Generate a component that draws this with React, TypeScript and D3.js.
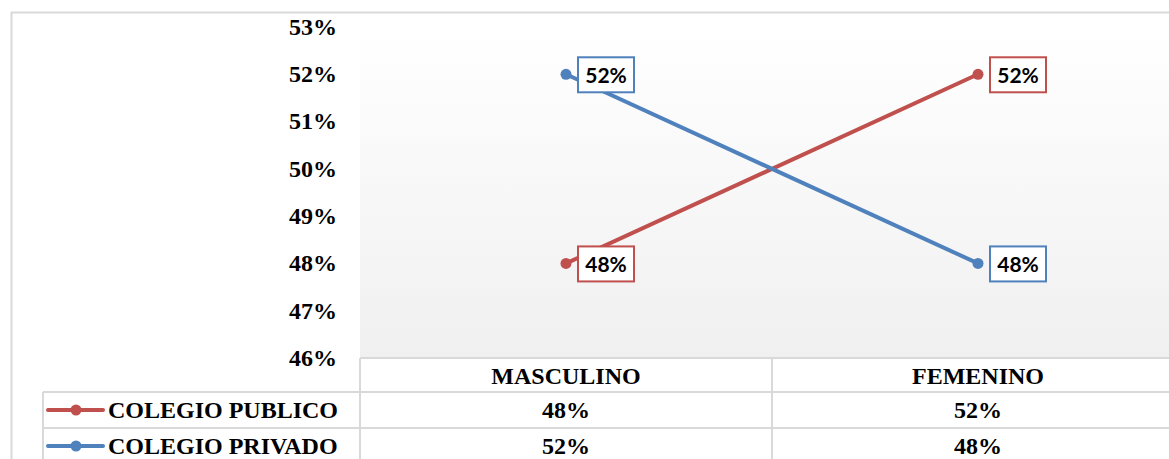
import React from "react";
import * as d3 from "d3";

const categories = ["MASCULINO", "FEMENINO"];
const seriesNames = ["COLEGIO PUBLICO", "COLEGIO PRIVADO"];
const publicoValues = [0.48, 0.52];
const privadoValues = [0.52, 0.48];
const yTicks = [0.46, 0.47, 0.48, 0.49, 0.5, 0.51, 0.52, 0.53];
const seriesColors = ["#c0504d", "#4f81bd"];

const W = 1169;
const H = 459;

export default function App() {
  const plotLeft = 360;
  const plotRight = 1184;
  const plotTop = 27;
  const plotBottom = 358;
  const y = d3.scaleLinear().domain([0.46, 0.53]).range([plotBottom, plotTop]);
  const x = d3.scaleBand<string>().domain(categories).range([plotLeft, plotRight]);
  const cx = (c: string) => (x(c) as number) + x.bandwidth() / 2;
  const fmt = d3.format(".0%");
  const series = [publicoValues, privadoValues];
  const line = d3
    .line<number>()
    .x((_, i) => cx(categories[i]))
    .y((d) => y(d));

  const headerTop = 358;
  const rowTops = [392, 428];
  const legendLeft = 43;
  const grid = "#d9d9d9";
  const serif = "'Liberation Serif', 'Times New Roman', serif";
  const sans = "Lato, 'Open Sans', sans-serif";
  const fs = 24;

  return (
    <svg
      width={W}
      height={H}
      style={{ position: "absolute", left: 0, top: 0, display: "block", background: "#fff" }}
    >
      <defs>
        <linearGradient id="plotbg" x1="0" y1="0" x2="0" y2="1">
          <stop offset="0" stopColor="#ffffff" />
          <stop offset="1" stopColor="#f0f0f0" />
        </linearGradient>
      </defs>
      {/* outer frame */}
      <line x1={11} y1={12.5} x2={W} y2={12.5} stroke={grid} strokeWidth={2} />
      <line x1={11.5} y1={12} x2={11.5} y2={H} stroke={grid} strokeWidth={2} />

      {/* plot area */}
      <rect x={plotLeft} y={plotTop} width={plotRight - plotLeft} height={plotBottom - plotTop} fill="url(#plotbg)" />

      {/* y axis labels */}
      {yTicks.map((t) => (
        <text
          key={t}
          x={337}
          y={y(t)}
          dy="0.33em"
          textAnchor="end"
          fontFamily={serif}
          fontWeight="bold"
          fontSize={fs}
          fill="#000"
        >
          {fmt(t)}
        </text>
      ))}

      {/* data table */}
      <g stroke={grid} strokeWidth={2}>
        <line x1={plotLeft} y1={headerTop} x2={W} y2={headerTop} />
        {rowTops.map((r) => (
          <line key={r} x1={legendLeft} y1={r} x2={W} y2={r} />
        ))}
        <line x1={plotLeft} y1={headerTop} x2={plotLeft} y2={H} />
        <line x1={legendLeft} y1={rowTops[0]} x2={legendLeft} y2={H} />
        <line x1={x.bandwidth() + plotLeft} y1={headerTop} x2={x.bandwidth() + plotLeft} y2={H} />
      </g>
      {categories.map((c) => (
        <text
          key={c}
          x={cx(c)}
          y={headerTop + 18}
          dy="0.33em"
          textAnchor="middle"
          fontFamily={serif}
          fontWeight="bold"
          fontSize={fs}
        >
          {c}
        </text>
      ))}
      {series.map((vals, si) => (
        <g key={si}>
          <line
            x1={legendLeft + 5}
            x2={legendLeft + 60}
            y1={rowTops[si] + 18}
            y2={rowTops[si] + 18}
            stroke={seriesColors[si]}
            strokeWidth={4}
            strokeLinecap="round"
          />
          <circle cx={legendLeft + 33} cy={rowTops[si] + 18} r={5.5} fill={seriesColors[si]} />
          <text
            x={legendLeft + 65}
            y={rowTops[si] + 18}
            dy="0.33em"
            fontFamily={serif}
            fontWeight="bold"
            fontSize={fs}
          >
            {seriesNames[si]}
          </text>
          {vals.map((v, i) => (
            <text
              key={i}
              x={cx(categories[i])}
              y={rowTops[si] + 18}
              dy="0.33em"
              textAnchor="middle"
              fontFamily={serif}
              fontWeight="bold"
              fontSize={fs}
            >
              {fmt(v)}
            </text>
          ))}
        </g>
      ))}

      {/* lines */}
      {series.map((vals, si) => (
        <g key={"s" + si}>
          <path d={line(vals) || ""} fill="none" stroke={seriesColors[si]} strokeWidth={4} strokeLinecap="round" />
          {vals.map((v, i) => (
            <circle key={i} cx={cx(categories[i])} cy={y(v)} r={5.5} fill={seriesColors[si]} />
          ))}
        </g>
      ))}
      {/* data labels */}
      {series.map((vals, si) =>
        vals.map((v, i) => {
          const px = cx(categories[i]) + 12;
          const py = y(v);
          return (
            <g key={"l" + si + "-" + i}>
              <rect x={px} y={py - 17} width={56} height={35} fill="#fff" stroke={seriesColors[si]} strokeWidth={2} />
              <text
                x={px + 28}
                y={py + 1}
                dy="0.35em"
                textAnchor="middle"
                fontFamily={sans}
                fontWeight="bold"
                fontSize={21}
                fill="#000"
              >
                {fmt(v)}
              </text>
            </g>
          );
        })
      )}
    </svg>
  );
}
